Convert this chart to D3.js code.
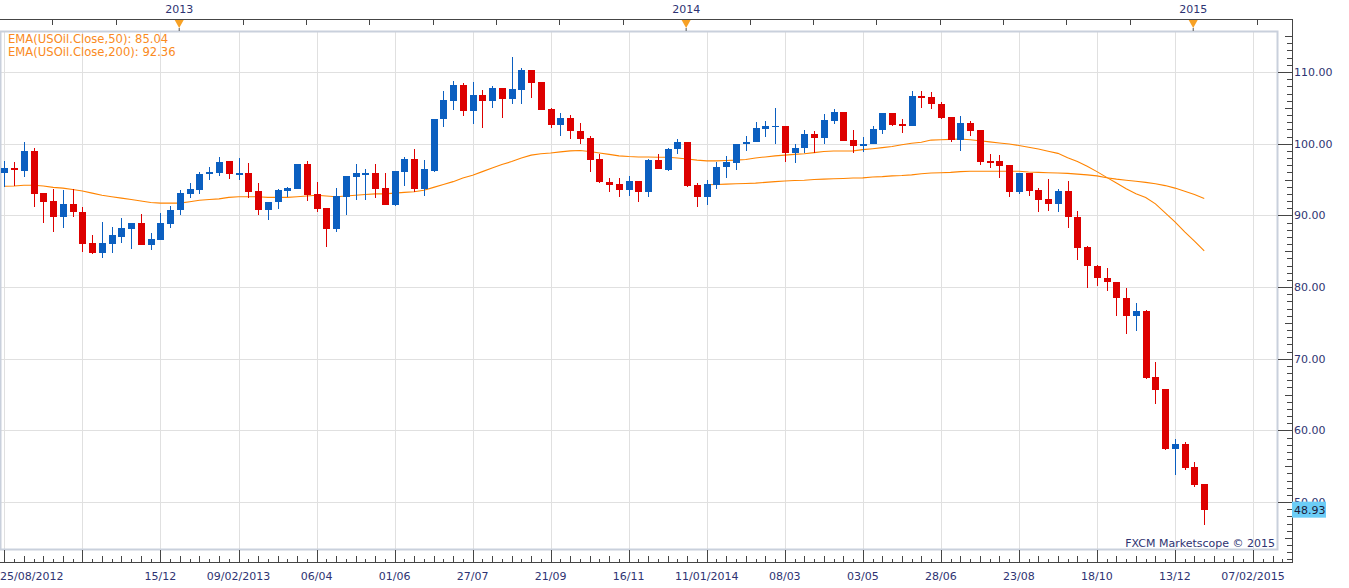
<!DOCTYPE html>
<html><head><meta charset="utf-8">
<script src="https://cdn.jsdelivr.net/npm/d3@7"></script>
<style>
body{margin:0;background:#fff;}
svg{display:block;}
text{font-family:"DejaVu Sans",Verdana,sans-serif;font-size:11px;}
</style>
</head><body>
<svg id="chart" width="1349" height="588"></svg>
<script>
// ---- Data (weekly USOil candles, index 0 = week of 25/08/2012) ----
const opens = [95.9,96.6,96.2,99.0,93.1,92.0,89.8,91.6,90.5,86.1,
84.7,86.0,87.0,88.1,88.9,85.9,86.6,88.8,90.7,93.0,
93.6,95.7,95.9,97.6,95.7,95.9,93.4,90.7,91.8,93.4,
93.7,97.2,93.0,91.0,88.1,92.6,95.4,95.8,95.9,93.8,
91.5,96.0,97.9,93.7,96.2,103.4,106.0,108.2,104.6,106.8,
106.0,107.8,106.3,107.5,110.3,108.6,104.8,102.6,103.6,101.8,
100.8,97.9,94.7,94.4,93.6,94.8,93.2,97.7,96.3,99.2,
100.2,94.2,92.6,94.3,96.7,97.3,99.9,100.2,102.1,102.3,
102.5,98.75,99.35,101.4,100.8,103.2,104.4,100.5,99.7,99.9,
101.9,104.3,102.8,102.5,106.7,106.5,105.6,103.75,100.55,102.9,
101.85,97.55,97.55,97.0,93.3,95.9,93.5,92.3,91.6,93.4,
89.8,85.6,83.0,81.3,80.7,78.5,75.9,76.7,67.5,65.75,
57.4,58.1,54.9,52.5];
const highs = [97.6,97.4,100.2,99.4,93.1,93.7,93.5,93.7,91.2,87.3,
89.1,88.4,89.6,88.9,90.2,87.6,90.3,91.3,93.6,94.5,
96.0,96.7,98.2,97.6,98.0,97.3,94.5,91.9,93.7,94.0,
97.2,97.6,94.7,91.0,93.8,95.5,97.1,96.5,97.2,95.9,
96.2,98.2,99.2,97.7,103.5,107.4,108.7,108.4,108.6,107.5,
108.0,107.8,112.1,110.6,110.3,108.6,105.0,104.3,104.0,102.9,
101.1,98.6,95.2,95.2,95.5,94.8,97.8,98.6,99.35,100.65,
100.2,94.5,94.9,97.4,98.3,100.0,101.1,103.05,103.2,105.0,
102.5,100.0,101.9,101.7,104.2,104.8,104.4,101.9,101.0,102.4,
104.3,104.3,103.5,107.3,107.3,107.2,105.8,103.75,103.8,103.2,
101.85,98.5,98.4,97.0,95.9,95.9,93.75,95.05,93.65,94.8,
90.6,85.7,83.1,82.7,80.7,79.8,77.7,76.85,69.5,65.75,
58.8,58.4,55.6,52.5];
const lows = [94.0,94.1,95.4,91.1,89.0,87.7,88.2,89.8,84.9,84.6,
84.1,84.7,86.1,85.3,85.8,85.2,86.6,88.2,90.0,92.4,
93.0,94.9,95.5,95.1,94.9,92.4,90.0,89.3,90.9,92.5,
93.7,92.0,90.4,85.6,87.7,90.0,92.1,92.1,92.4,91.5,
91.35,94.1,93.3,92.7,96.0,102.3,104.7,103.9,102.8,102.2,
105.0,103.6,105.6,105.6,106.4,104.7,102.2,101.1,100.7,100.0,
96.0,94.5,93.2,92.6,92.7,91.8,92.6,96.4,96.2,98.6,
93.9,91.2,91.4,93.7,95.2,96.3,99.0,100.2,101.0,100.0,
97.5,97.3,98.75,98.75,99.9,102.8,100.4,98.66,98.9,99.9,
101.4,102.4,101.5,102.5,105.0,104.9,103.5,100.3,99.0,101.06,
97.04,96.6,95.2,92.6,93.0,92.7,90.5,90.65,90.5,88.3,
83.7,79.8,80.1,79.5,75.9,73.4,73.9,67.2,63.7,57.3,
53.7,54.5,52.05,46.8];
const closes = [96.6,96.3,99.0,93.0,91.9,89.8,91.6,90.4,86.0,84.7,
86.1,87.2,88.2,88.9,85.9,86.7,88.9,90.7,93.1,93.7,
95.8,96.0,97.5,95.7,95.9,93.3,90.7,91.9,93.5,93.8,
97.2,92.9,90.9,88.1,92.7,95.5,95.9,95.9,93.7,91.5,
96.2,97.9,93.7,96.5,103.5,106.1,108.2,104.6,106.8,106.0,
107.8,106.3,107.6,110.3,108.5,104.7,102.6,103.6,101.7,100.7,
97.7,94.6,94.3,93.6,94.8,93.2,97.7,96.4,99.3,100.2,
94.1,92.6,94.4,96.8,97.4,100.0,100.3,102.2,102.4,102.5,
98.75,99.44,101.4,100.8,103.3,104.4,100.4,99.7,100.0,102.1,
104.3,102.6,102.5,106.7,106.4,105.5,103.6,100.5,102.9,101.76,
97.45,97.45,96.9,93.3,95.9,93.4,92.2,91.6,93.4,89.7,
85.5,82.9,81.2,80.65,78.4,75.9,76.7,67.36,65.6,57.4,
58.1,54.8,52.4,48.93];
// EMA(50) for every candle
const ema50 = [94.05,94.1,94.2,94.2,94.1,93.9,93.8,93.6,93.4,93.1,
92.8,92.6,92.4,92.2,92.0,91.8,91.7,91.7,91.7,91.9,
92.1,92.2,92.3,92.5,92.6,92.6,92.6,92.5,92.5,92.5,
92.6,92.7,92.8,92.7,92.6,92.7,92.8,92.9,93.0,93.0,
93.1,93.2,93.3,93.5,93.9,94.3,94.7,95.2,95.6,96.1,
96.6,97.1,97.5,98.0,98.4,98.6,98.7,98.85,99.0,99.05,
98.9,98.7,98.5,98.3,98.2,98.15,98.15,98.1,98.1,98.0,
97.85,97.7,97.6,97.6,97.65,97.7,97.8,98.0,98.15,98.3,
98.4,98.5,98.6,98.75,98.9,98.98,98.98,99.0,99.17,99.3,
99.45,99.6,99.85,100.05,100.2,100.5,100.55,100.6,100.65,100.55,
100.4,100.25,100.1,99.95,99.75,99.5,99.25,98.95,98.65,98.05,
97.5,96.85,96.1,95.3,94.5,93.7,93.0,92.5,91.6,90.35,
89.1,87.7,86.4,85.04];
// EMA(200) starts at candle 72
const ema200Start = 72;
const ema200 = [94.26,94.3,94.35,94.4,94.45,94.5,94.6,94.7,
94.8,94.86,94.9,95.0,95.05,95.1,95.15,95.2,95.23,95.35,
95.4,95.5,95.55,95.65,95.8,95.9,95.95,96.0,96.1,96.15,
96.16,96.16,96.16,96.16,96.16,96.05,96.0,95.95,95.9,95.85,
95.75,95.65,95.5,95.25,95.05,94.9,94.75,94.6,94.4,94.15,
93.8,93.35,92.9,92.36];
// Bottom axis labels every 8 weeks (second one hidden in the original)
const tickLabels = ["25/08/2012","","15/12","09/02/2013","06/04","01/06","27/07","21/09","16/11",
"11/01/2014","08/03","03/05","28/06","23/08","18/10","13/12","07/02/2015"];
const tickStep = 8;
// Price axis labels
const priceTicks = [110,100,90,80,70,60,50];
// Year markers on top axis (in week units)
const yearLabels = ["2013","2014","2015"];
const yearWeeks = [17.92, 69.89, 121.87];
const legendLines = ["EMA(USOil.Close,50): 85.04","EMA(USOil.Close,200): 92.36"];
const lastClose = 48.93;

// ---- Layout ----
const W = 1349, H = 588;
const plot = {left:0, top:31, right:1277, bottom:549};
const axisRightX = 1292, axisTopY = 19, axisBottomY = 562;
const navy = "#2e3372";
const blue = "#0b5fc0", red = "#dd0000", orange = "#ff8400";

const svg = d3.select("#chart");
const x = d3.scaleLinear().domain([0,128]).range([4.4, 1253.0]);
const y = d3.scaleLinear().domain([50,110]).range([502, 72]);

// Gridlines
const gridG = svg.append("g");
gridG.selectAll("line.h").data(priceTicks).join("line")
  .attr("x1",plot.left).attr("x2",plot.right)
  .attr("y1",d=>Math.round(y(d))+0.5).attr("y2",d=>Math.round(y(d))+0.5)
  .attr("stroke","#e0e0e0").attr("stroke-width",1);
gridG.selectAll("line.v").data(tickLabels.map((d,i)=>i*tickStep)).join("line")
  .attr("x1",d=>Math.round(x(d))+0.5).attr("x2",d=>Math.round(x(d))+0.5)
  .attr("y1",plot.top).attr("y2",plot.bottom)
  .attr("stroke","#e0e0e0").attr("stroke-width",1);

// Plot frame
svg.append("rect").attr("x",plot.left+0.5).attr("y",plot.top+0.5)
  .attr("width",plot.right-plot.left).attr("height",plot.bottom-plot.top)
  .attr("fill","none").attr("stroke","#c9d0dc").attr("stroke-width",2);

// EMA lines
const line = d3.line().x(d=>x(d[0])).y(d=>y(d[1]));
svg.append("path").datum(ema50.map((v,i)=>[i,v]))
  .attr("d",line).attr("fill","none").attr("stroke",orange).attr("stroke-width",1.1);
svg.append("path").datum(ema200.map((v,i)=>[i+ema200Start,v]))
  .attr("d",line).attr("fill","none").attr("stroke",orange).attr("stroke-width",1.1);

// Candles
const candles = opens.map((o,i)=>({i,o,h:highs[i],l:lows[i],c:closes[i]}));
const cg = svg.append("g").attr("shape-rendering","crispEdges");
const cs = cg.selectAll("g").data(candles).join("g");
cs.append("rect")
  .attr("x",d=>Math.round(x(d.i)))
  .attr("width",1)
  .attr("y",d=>y(d.h))
  .attr("height",d=>Math.max(1,y(d.l)-y(d.h)))
  .attr("fill",d=>d.c>=d.o?blue:red);
cs.append("rect")
  .attr("x",d=>Math.round(x(d.i))-3)
  .attr("width",7)
  .attr("y",d=>y(Math.max(d.o,d.c)))
  .attr("height",d=>Math.max(1.5,Math.abs(y(d.o)-y(d.c))))
  .attr("fill",d=>d.c>=d.o?blue:red);

// Legend
svg.selectAll("text.leg").data(legendLines).join("text")
  .attr("x",8).attr("y",(d,i)=>43+i*13)
  .style("font-size","11.6px")
  .attr("fill","#fa8a22").text(d=>d);

// Watermark
svg.append("text").attr("x",1275).attr("y",547).attr("text-anchor","end")
  .attr("fill",navy).text("FXCM Marketscope \u00A9 2015");

// Axes frame lines
const axG = svg.append("g").attr("shape-rendering","crispEdges");
axG.append("line").attr("x1",0).attr("x2",axisRightX+0.5).attr("y1",axisTopY+0.5).attr("y2",axisTopY+0.5)
  .attr("stroke","#454545");
axG.append("line").attr("x1",0).attr("x2",axisRightX+0.5).attr("y1",axisBottomY+0.5).attr("y2",axisBottomY+0.5)
  .attr("stroke","#454545");
axG.append("line").attr("x1",axisRightX+0.5).attr("x2",axisRightX+0.5).attr("y1",axisTopY).attr("y2",axisBottomY+1)
  .attr("stroke","#454545");

// Right price axis ticks
const minorVals = d3.range(42,116);
axG.selectAll("line.pt").data(minorVals).join("line")
  .attr("x1",d=>d%10===0?1278:(d%5===0?1285:1287)).attr("x2",axisRightX)
  .attr("y1",d=>Math.round(y(d))+0.5).attr("y2",d=>Math.round(y(d))+0.5)
  .attr("stroke","#454545");
svg.selectAll("text.pl").data(priceTicks).join("text")
  .attr("x",1294).attr("y",d=>y(d)+4)
  .attr("fill",navy).text(d=>d.toFixed(2));

// Last price box
svg.append("rect").attr("x",axisRightX).attr("y",y(lastClose)-8).attr("width",34).attr("height",16)
  .attr("fill","#6ccdf7");
svg.append("text").attr("x",1294).attr("y",y(lastClose)+4)
  .attr("fill","#1b1b3a").text(lastClose.toFixed(2));

// Bottom axis ticks (weekly)
const weeks = d3.range(0,132).filter(w=>x(w)<=axisRightX);
axG.selectAll("line.wt").data(weeks).join("line")
  .attr("x1",d=>Math.round(x(d))+0.5).attr("x2",d=>Math.round(x(d))+0.5)
  .attr("y1",d=>d%tickStep===0?plot.bottom+1:(d%2===0?axisBottomY-6:axisBottomY-3))
  .attr("y2",axisBottomY)
  .attr("stroke","#454545");
svg.selectAll("text.bl").data(tickLabels.map((t,k)=>({t,w:k*tickStep})).filter(d=>d.t!==""))
  .join("text")
  .attr("x",d=>d.w===0?0:x(d.w))
  .attr("y",580)
  .attr("text-anchor",d=>d.w===0?"start":"middle")
  .attr("fill",navy).text(d=>d.t);

// Top axis: year markers and sub ticks
const yStep = (yearWeeks[2]-yearWeeks[0])/16;
const topTicks = d3.range(-3,20).map(k=>yearWeeks[0]+k*yStep).filter(w=>x(w)>=0 && x(w)<=axisRightX);
axG.selectAll("line.tt").data(topTicks).join("line")
  .attr("x1",d=>Math.round(x(d))+0.5).attr("x2",d=>Math.round(x(d))+0.5)
  .attr("y1",axisTopY).attr("y2",axisTopY+6)
  .attr("stroke","#454545");
yearWeeks.forEach((w,k)=>{
  const cx = x(w);
  svg.append("path").attr("d",`M${cx-4.5},${axisTopY+1}L${cx+4.5},${axisTopY+1}L${cx},${axisTopY+9}Z`)
    .attr("fill","#f7a125");
  svg.append("line").attr("x1",cx).attr("x2",cx).attr("y1",axisTopY+9).attr("y2",plot.top)
    .attr("stroke","#555").attr("stroke-width",1);
  svg.append("text").attr("x",cx).attr("y",13).attr("text-anchor","middle")
    .attr("fill",navy).text(yearLabels[k]);
});
</script>
</body></html>
